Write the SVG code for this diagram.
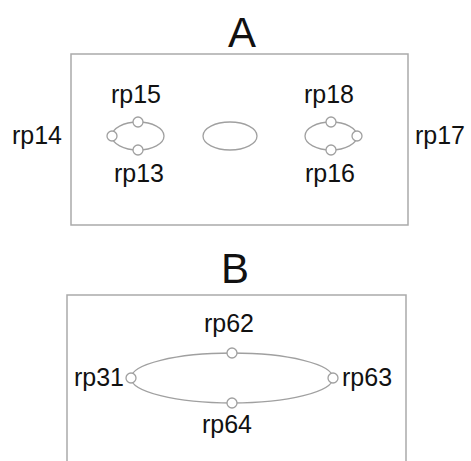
<svg xmlns="http://www.w3.org/2000/svg" width="471" height="461" viewBox="0 0 471 461">
<style>
.box{fill:none;stroke:#aaaaaa;stroke-width:1.5}
.ring{fill:none;stroke:#a0a0a0;stroke-width:1.3}
.pt{fill:#ffffff;stroke:#a0a0a0;stroke-width:1.3}
.lbl{font-family:"Liberation Sans",Arial,sans-serif;font-size:25px;fill:#111111}
.ttl{font-family:"Liberation Sans",Arial,sans-serif;font-size:42px;fill:#111111;text-anchor:middle}
</style>
<rect width="471" height="461" fill="#ffffff"/>
<g id="panelA">
<text class="ttl" x="242" y="47">A</text>
<rect class="box" x="71" y="54" width="337" height="171"/>
</g>
<g id="panelB">
<text class="ttl" x="235" y="283">B</text>
<rect class="box" x="67" y="295" width="339" height="180"/>
</g>
<g id="connectors">
<ellipse class="ring" cx="138" cy="136" rx="26" ry="14"/>
<ellipse class="ring" cx="230" cy="136" rx="27" ry="14"/>
<ellipse class="ring" cx="331" cy="136" rx="26" ry="14"/>
<ellipse class="ring" cx="232" cy="378" rx="101" ry="25"/>
</g>
<g id="rp15"><circle class="pt" cx="138" cy="122" r="5"/><text class="lbl" x="136" y="103" text-anchor="middle">rp15</text></g>
<g id="rp13"><circle class="pt" cx="138" cy="150" r="5"/><text class="lbl" x="139" y="182" text-anchor="middle">rp13</text></g>
<g id="rp14"><circle class="pt" cx="112" cy="136" r="5"/><text class="lbl" x="37" y="144" text-anchor="middle">rp14</text></g>
<g id="rp18"><circle class="pt" cx="331" cy="122" r="5"/><text class="lbl" x="329" y="103" text-anchor="middle">rp18</text></g>
<g id="rp16"><circle class="pt" cx="331" cy="150" r="5"/><text class="lbl" x="330" y="182" text-anchor="middle">rp16</text></g>
<g id="rp17"><circle class="pt" cx="357" cy="136" r="5"/><text class="lbl" x="440" y="144" text-anchor="middle">rp17</text></g>
<g id="rp62"><circle class="pt" cx="232" cy="353" r="5"/><text class="lbl" x="229" y="332" text-anchor="middle">rp62</text></g>
<g id="rp64"><circle class="pt" cx="232" cy="403" r="5"/><text class="lbl" x="227" y="433" text-anchor="middle">rp64</text></g>
<g id="rp31"><circle class="pt" cx="131" cy="378" r="5"/><text class="lbl" x="124" y="386" text-anchor="end">rp31</text></g>
<g id="rp63"><circle class="pt" cx="333" cy="378" r="5"/><text class="lbl" x="342" y="386">rp63</text></g>
</svg>
